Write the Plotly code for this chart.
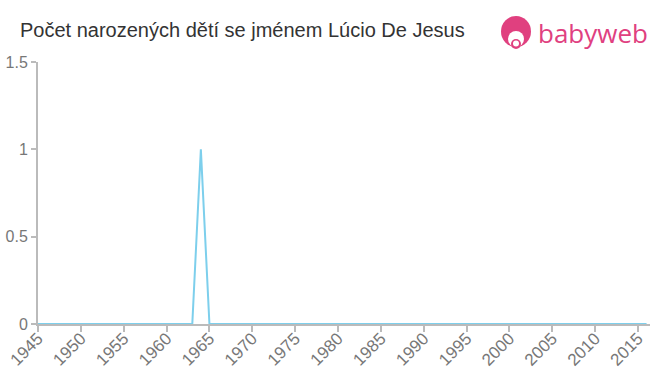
import plotly.graph_objects as go

years = list(range(1945, 2017))
births = [0] * len(years)
births[years.index(1964)] = 1

title_text = "Počet narozených dětí se jménem Lúcio De Jesus"
x_ticks = list(range(1945, 2016, 5))
y_ticks = [0, 0.5, 1, 1.5]
y_labels = ["0", "0.5", "1", "1.5"]

L, R, T, B = 38, 10, 62, 51
W, H = 660, 375
pw, ph = W - L - R, H - T - B


def px(x):
    return (x - L) / pw


def py(y):
    return (H - B - y) / ph


fig = go.Figure()
fig.add_trace(go.Scatter(x=years, y=births, mode="lines",
                         line=dict(color="#7dcfec", width=2), hoverinfo="skip"))

fig.update_layout(
    width=W, height=H,
    margin=dict(l=L, r=R, t=T, b=B, autoexpand=False),
    plot_bgcolor="white", paper_bgcolor="white",
    showlegend=False,
    font=dict(family="Liberation Sans, Arial, sans-serif", color="#777"),
    title=dict(text=title_text, x=20 / W, xanchor="left", y=1 - 30 / H, yanchor="middle",
               font=dict(size=20, color="#333")),
)
fig.update_xaxes(range=[1945, 2016.4], tickvals=x_ticks, ticktext=[str(v) for v in x_ticks],
                 tickangle=-45, tickfont=dict(size=17, color="#777"), automargin=False,
                 ticklabelstandoff=-10,
                 showgrid=False, zeroline=False, showline=True, linecolor="#bbb", linewidth=2,
                 ticks="outside", ticklen=6, tickcolor="#bbb", tickwidth=2)
fig.update_yaxes(range=[0, 1.5], tickvals=y_ticks, ticktext=y_labels, automargin=False,
                 tickfont=dict(size=16, color="#777"),
                 showgrid=False, zeroline=False, showline=True, linecolor="#bbb", linewidth=2,
                 ticks="outside", ticklen=5, tickcolor="#bbb", tickwidth=2)

pink = "#e0407f"
# logo icon
fig.add_shape(type="circle", xref="paper", yref="paper",
              x0=px(501), x1=px(531), y0=py(47), y1=py(16),
              fillcolor=pink, line=dict(width=0))
fig.add_shape(type="circle", xref="paper", yref="paper",
              x0=px(508), x1=px(524), y0=py(47), y1=py(31),
              fillcolor="white", line=dict(width=0))
fig.add_shape(type="circle", xref="paper", yref="paper",
              x0=px(511), x1=px(521), y0=py(49), y1=py(39),
              fillcolor=pink, line=dict(width=0))
fig.add_shape(type="circle", xref="paper", yref="paper",
              x0=px(513), x1=px(519), y0=py(46.5), y1=py(40.5),
              fillcolor="white", line=dict(width=0))
fig.add_annotation(text="babyweb", xref="paper", yref="paper",
                   x=px(536), y=py(33), xanchor="left", yanchor="middle",
                   showarrow=False, font=dict(size=26, color=pink,
                                              family="Open Sans, sans-serif"))

fig.write_html("out.html")
